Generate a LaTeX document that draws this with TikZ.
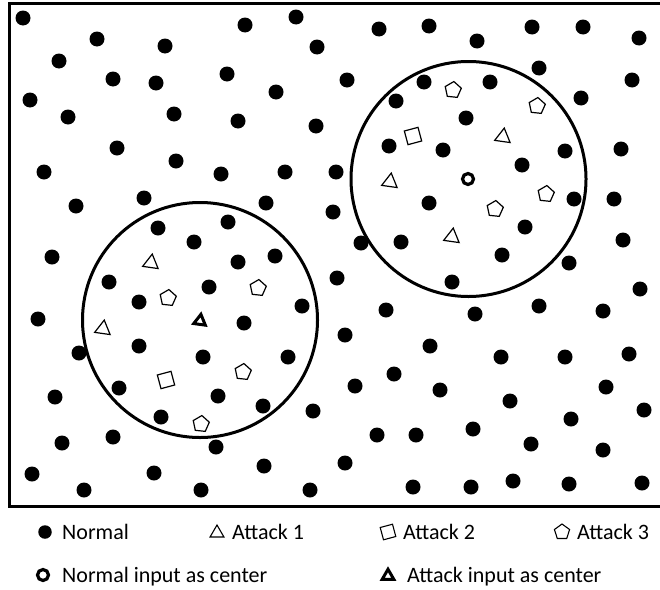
\documentclass[tikz,border=0pt]{standalone}
\usepackage{fontspec}
\setmainfont{Carlito}
\usetikzlibrary{shapes.geometric}
\tikzset{
  dot/.style={circle, fill=black, inner sep=0pt, minimum size=15pt},
  tri/.style={regular polygon, regular polygon sides=3, draw, line width=1.2pt, inner sep=0pt, minimum size=18pt},
  pent/.style={regular polygon, regular polygon sides=5, draw, line width=1.2pt, inner sep=0pt, minimum size=17pt},
  sq/.style={regular polygon, regular polygon sides=4, draw, line width=1.2pt, inner sep=0pt, minimum size=20pt},
  ring/.style={circle, draw, line width=3.2pt, inner sep=0pt, minimum size=11pt},
  atkc/.style={regular polygon, regular polygon sides=3, draw, line width=3pt, inner sep=0pt, minimum size=13.5pt},
  region/.style={circle, draw, line width=3pt, inner sep=0pt, minimum size=235pt},
  legtext/.style={anchor=base west, inner sep=0pt, font=\fontsize{22}{26}\selectfont}
}
\begin{document}
\begin{tikzpicture}[x=1pt, y=-1pt]
\useasboundingbox (0,0) rectangle (660,589);
\fill[white] (0,0) rectangle (660,589);
% frame
\node[draw, line width=3pt, inner sep=0pt, minimum width=654pt, minimum height=503.5pt, anchor=north west] (frame) at (8,1.5) {};
% regions
\node[region] (cl) at (200,320) {};
\node[region] (cr) at (468.5,179) {};
% normal points
\foreach \x/\y [count=\i] in {
23/18, 97/39, 59/61, 165/46, 245/25, 296/17, 317/47, 113/79, 156/83, 227/74,
276/92, 30/100, 68/117, 174/114, 238/121, 316/126, 117/148, 176/161, 44/172, 221/174,
285/172, 76/206, 144/198, 266/203, 158/228, 228/222, 194/242,
379/29, 429/26, 477/41, 532/27, 583/27, 639/38, 347/80, 424/82, 490/82, 539/68,
632/80, 396/101, 581/98, 466/118, 389/146, 443/150, 565/151, 621/149, 522/165, 336/172,
333/212, 429/203, 574/199, 614/199, 525/227, 361/243, 401/242, 623/240, 502/255,
238/262, 275/256, 109/282, 209/287, 139/302, 302/306, 244/323, 139/346, 203/357, 288/357,
119/388, 218/396, 263/406, 161/417, 313/411, 113/437, 79/353, 52/257, 38/319, 55/397,
62/443, 216/447, 264/466, 32/474, 154/473, 84/490, 201/490, 310/490,
569/263, 337/278, 452/282, 640/289, 386/310, 475/314, 539/306, 603/311, 345/335, 430/346,
501/357, 565/357, 629/354, 394/374, 355/386, 440/390, 510/401, 606/387, 644/410, 571/419,
377/435, 416/435, 473/429, 531/444, 603/450, 345/463, 413/487, 471/487, 513/481, 569/484,
642/483}
  \node[dot] (n\i) at (\x,\y) {};
% attack 1 (triangles)
\node[tri, rotate=-8] (t1) at (151,263) {};
\node[tri, rotate=-8] (t2) at (103,329) {};
\node[tri, rotate=-8] (t3) at (503,137) {};
\node[tri, rotate=-8] (t4) at (390,182) {};
\node[tri, rotate=-8] (t5) at (452,237) {};
% attack 2 (squares)
\node[sq, rotate=15] (s1) at (166,380) {};
\node[sq, rotate=15] (s2) at (413,136) {};
% attack 3 (pentagons)
\node[pent, rotate=-6] (p1) at (258,288) {};
\node[pent, rotate=-6] (p2) at (168,298) {};
\node[pent, rotate=-6] (p3) at (243,372) {};
\node[pent, rotate=-6] (p4) at (201,424) {};
\node[pent, rotate=-6] (p5) at (453,90) {};
\node[pent, rotate=-6] (p6) at (537,106) {};
\node[pent, rotate=-6] (p7) at (546,194) {};
\node[pent, rotate=-6] (p8) at (495,209) {};
% centers
\node[atkc, rotate=-8] (ac) at (200,321) {};
\node[ring] (nc) at (468,179) {};
% legend
\node[dot, minimum size=13.5pt] (lg1) at (45,532) {};
\node[legtext] (lt1) at (62,539) {Normal};
\node[tri, minimum size=16pt, line width=1.1pt] (lg2) at (217,533) {};
\node[legtext] (lt2) at (232,539) {Attack 1};
\node[sq, minimum size=18pt, line width=1.1pt, rotate=15] (lg3) at (388,532) {};
\node[legtext] (lt3) at (403,539) {Attack 2};
\node[pent, minimum size=16pt, line width=1.1pt] (lg4) at (562,532) {};
\node[legtext] (lt4) at (577,539) {Attack 3};
\node[ring] (lg5) at (43,575) {};
\node[legtext] (lt5) at (62,582) {Normal input as center};
\node[atkc] (lg6) at (388,576) {};
\node[legtext] (lt6) at (407,582) {Attack input as center};
\end{tikzpicture}
\end{document}
